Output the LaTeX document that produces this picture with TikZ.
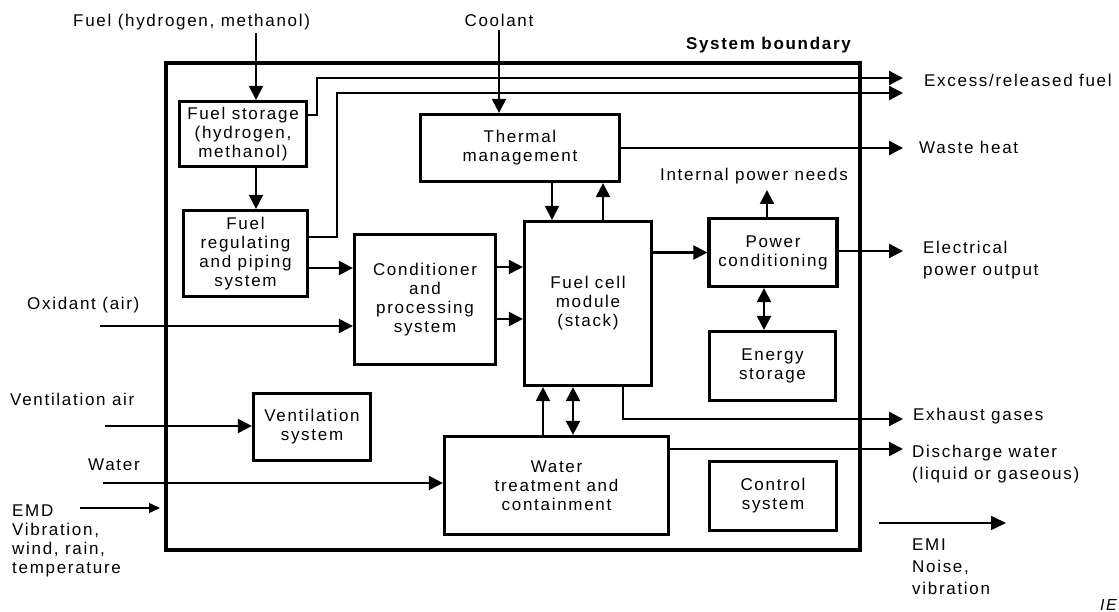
\documentclass[tikz,border=0pt]{standalone}
\usepackage{fontspec}
\setmainfont{Liberation Sans}[LetterSpace=10]
\usetikzlibrary{arrows.meta,calc}
\begin{document}
\begin{tikzpicture}[x=1pt,y=-1pt,
  box/.style={draw,line width=3.2pt,inner sep=0pt,align=center,font=\fontsize{17}{19}\selectfont},
  lbl/.style={inner sep=0pt,font=\fontsize{17}{22}\selectfont},
  lblb/.style={inner sep=0pt,align=left,font=\fontsize{17}{22}\selectfont},
  arr/.style={line width=2.2pt,-{Triangle[length=14pt,width=14pt]}},
  darr/.style={line width=2.2pt,{Triangle[length=14pt,width=14pt]}-{Triangle[length=14pt,width=14pt]}},
  thinarr/.style={line width=1.4pt,-{Triangle[length=11pt,width=10pt]}},
  thinarrb/.style={line width=1.6pt,-{Triangle[length=15pt,width=14pt]}}]
\fill[white] (0,0) rectangle (1119,612);
\useasboundingbox (0,0) rectangle (1119,612);

% system boundary
\node[draw,line width=3.5pt,inner sep=0pt,minimum width=694pt,minimum height=487pt] (sb) at (513,306.5) {};

% boxes
\node[box,minimum width=127pt,minimum height=65pt] (fs) at (243,134) {Fuel storage\\(hydrogen,\\methanol)};
\node[box,minimum width=124pt,minimum height=86pt] (fr) at (245.5,253.5) {Fuel\\regulating\\and piping\\system};
\node[box,minimum width=199pt,minimum height=67pt] (tm) at (520,148) {Thermal\\management};
\node[box,minimum width=141pt,minimum height=130pt] (cp) at (425,299.5) {Conditioner\\and\\processing\\system};
\node[box,minimum width=127pt,minimum height=164pt] (fc) at (588,303.5) {Fuel cell\\module\\(stack)};
\node[box,minimum width=128pt,minimum height=68pt] (pc) at (773,252.5) {Power\\conditioning};
\node[box,minimum width=126pt,minimum height=69pt] (es) at (772.5,366) {Energy\\storage};
\node[box,minimum width=127pt,minimum height=69pt] (cs) at (773,496) {Control\\system};
\node[box,minimum width=117pt,minimum height=67pt] (vs) at (312,427) {Ventilation\\system};
\node[box,minimum width=224pt,minimum height=98pt] (wt) at (556.5,485.5) {Water\\treatment and\\containment};

% free ends
\coordinate (fuelin) at (256,33);
\coordinate (coolin) at (499,30);
\coordinate (ex1) at (903,78);
\coordinate (ex2) at (903,93);
\coordinate (wh) at (903,148);
\coordinate (epo) at (903,251);
\coordinate (ipn) at (767,190);
\coordinate (oxin) at (100,326);
\coordinate (exh) at (903,419);
\coordinate (dw) at (903,449);
\coordinate (vin) at (105,426);
\coordinate (win) at (103,483);
\coordinate (emdA) at (80,508);
\coordinate (emdB) at (160,508);
\coordinate (emiA) at (879,523);
\coordinate (emiB) at (1006,523);
\coordinate (xd) at (552,0);
\coordinate (xu) at (603,0);
\coordinate (xa) at (543,0);
\coordinate (xb) at (573,0);
\coordinate (xe) at (623,0);
\coordinate (xs) at (764,0);
\coordinate (frout) at ([yshift=-14.5pt]fr.east);
\coordinate (c1) at ([yshift=32.5pt]cp.east);
\coordinate (c2) at ([yshift=-19.5pt]cp.east);

% connectors
\draw[arr] (fuelin) -- (fuelin |- fs.north);
\draw[arr] (fs.south -| fuelin) -- (fr.north -| fuelin);
\draw[arr] ([yshift=19pt]fs.east) -- ++(9,0) |- (ex1);
\draw[arr] ([yshift=16.5pt]fr.east) -- ++(28,0) |- (ex2);
\draw[arr] (coolin) -- (coolin |- tm.north);
\draw[arr] (tm.east) -- (wh);
\draw[arr] (tm.south -| xd) -- (fc.north -| xd);
\draw[arr] (fc.north -| xu) -- (tm.south -| xu);
\draw[arr] (fc.east |- pc.west) -- (pc.west);
\draw[arr] (pc.east |- epo) -- (epo);
\draw[arr] (pc.north -| ipn) -- (ipn);
\draw[darr] (pc.south -| xs) -- (es.north -| xs);
\draw[arr] (frout) -- (frout -| cp.west);
\draw[arr] (oxin) -- (oxin -| cp.west);
\draw[arr] (c1) -- (c1 -| fc.west);
\draw[arr] (c2) -- (c2 -| fc.west);
\draw[arr] (wt.north -| xa) -- (fc.south -| xa);
\draw[darr] (wt.north -| xb) -- (fc.south -| xb);
\draw[arr] (fc.south -| xe) |- (exh);
\draw[arr] (wt.east |- dw) -- (dw);
\draw[arr] (vin) -- (vin -| vs.west);
\draw[arr] (win) -- (win -| wt.west);
\draw[thinarr] (emdA) -- (emdB);
\draw[thinarrb] (emiA) -- (emiB);

% labels
\node[lbl,anchor=base west] (lfuel) at (73,27) {Fuel (hydrogen, methanol)};
\node[lbl,anchor=base] (lcool) at (499,27) {Coolant};
\node[lbl,anchor=base east,font=\fontsize{17}{22}\selectfont\bfseries] (lsb) at (851,50) {System boundary};
\node[lbl,anchor=base west] (lex) at (924,87) {Excess/released fuel};
\node[lbl,anchor=base west] (lwh) at (919,154) {Waste heat};
\node[lbl,anchor=base] (lipn) at (754,181) {Internal power needs};
\node[lblb,anchor=north west] (lepo) at (923,241) {Electrical\\power output};
\node[lbl,anchor=base west] (lox) at (27,310) {Oxidant (air)};
\node[lbl,anchor=base west] (lva) at (10,405) {Ventilation air};
\node[lbl,anchor=base west] (lw) at (88,470) {Water};
\node[lblb,anchor=north west,font=\fontsize{17}{19}\selectfont] (lemd) at (12,505) {EMD\\Vibration,\\wind, rain,\\temperature};
\node[lblb,anchor=north west] (lemi) at (912,539) {EMI\\Noise,\\vibration};
\node[lbl,anchor=base west] (lexh) at (913,420) {Exhaust gases};
\node[lblb,anchor=north west] (ldw) at (912,445) {Discharge water\\(liquid or gaseous)};
\node[lbl,anchor=base west,font=\fontsize{16}{20}\selectfont\itshape] (liec) at (1100,610) {IEC};
\end{tikzpicture}
\end{document}
